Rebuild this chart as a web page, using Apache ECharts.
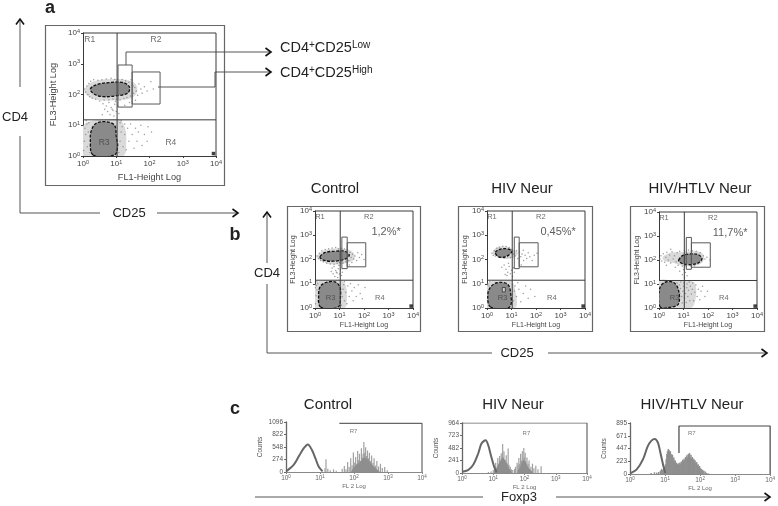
<!DOCTYPE html>
<html><head><meta charset="utf-8">
<style>html,body{margin:0;padding:0;background:#fff}#c{width:778px;height:506px}</style>
<script src="https://cdn.jsdelivr.net/npm/echarts@6/dist/echarts.min.js"></script></head>
<body><div id="c"></div>
<script>
const dotTitles=["Control","HIV Neur","HIV/HTLV Neur"];
const pct=["1,2%*","0,45%*","11,7%*"];
const regionNames=["R1","R2","R3","R4"];

// gates: [xDiv, yDiv]
const gateA=[10.6,15], gateB1=[10.7,14], gateB2=[10.7,14], gateB3=[10.8,14];
// rectangles [x0,x1,y0,y1]
const lowA=[11.3,30,39,910], highA=[30,208,49,540];
const lowB1=[12.5,20.6,42,840], highB1=[20.6,118,50,490];
const lowB2=[13,20.6,42,840], highB2=[20.6,122,50,490];
const lowB3=[13,21,41,870], highB3=[21,124,50,520];

// contour blobs
const upA=[[1.66,149],[2.5,207],[6.3,245],[16,245],[25,174],[22,110],[10,91],[4,85],[2.2,102]];
const loA=[[2,1.08],[1.66,3.3],[1.8,7],[2.5,11.6],[5,13],[8.9,10],[10,4.3],[11,2],[8.9,1.08]];
const upB1=[[1.6,129],[2.6,195],[7.6,220],[16.6,220],[25,151],[16.6,103],[5.6,85],[2.2,94]];
const loB1=[[1.7,1.1],[1.4,3.3],[1.6,7.4],[2.6,11],[6.5,12],[10.4,7.4],[11,3.3],[8.9,1.1]];
const upB2=[[2.2,195],[3.5,268],[7.6,268],[10.4,208],[5.6,129],[3,129]];
const loB2=[[1.4,1.1],[1.07,3.3],[1.4,7.4],[2.6,11],[6.5,10],[8.9,5.4],[8.4,1.1]];
const holeB2=[[4.2,4.6],[4.2,7],[5.6,7],[5.6,4.6]];
const upB3=[[6.3,98],[10,158],[35,175],[57,115],[35,71],[12,65],[7.4,79]];
const loB3=[[1.13,1.1],[1.06,6.4],[1.8,12],[4,11.5],[6.3,5.5],[6.3,1.5],[3.4,1.1]];
const coreB3=[[2,3.4],[2,7],[3,9],[4.4,7.5],[4.6,4],[3.2,2.8]];
// dense speckle halos round the contours
const haloUpA=[[1.1,130],[1.5,220],[3,290],[8,320],[20,300],[38,220],[42,120],[28,75],[10,65],[3,65],[1.5,85]];
const haloLoA=[[1,1],[1,9],[1.5,13],[4,15],[12,15],[18,9],[20,3],[16,1]];
const haloUpB1=[[1.2,120],[1.7,200],[4,270],[10,280],[22,260],[40,170],[38,95],[20,72],[8,62],[3,70]];
const haloLoB1=[[1,1],[1,8],[1.5,13],[5,14],[12,14],[18,8],[20,2.5],[16,1]];
const haloUpB2=[[1.7,180],[2.2,290],[5,340],[10,280],[18,190],[14,130],[7,105],[3,125]];
const haloLoB2=[[1,1],[1,8],[1.6,13],[5,13],[10,13],[14,6],[14,1]];
const haloUpB3=[[1.4,130],[3,200],[8,210],[20,230],[50,210],[70,130],[50,70],[12,55],[4,75],[1.7,90]];
const haloLoB3=[[1,1],[1,13],[4,14],[12,14],[28,11],[32,3],[20,1]];

// speckle dots
const dotsA=[[1.1,150],[1.2,120],[1.3,190],[1.4,100],[1.5,230],[1.6,85],[1.7,270],[1.9,75],[2.1,300],[2.4,70],[2.8,290],[3.2,62],[3.7,300],[4.3,66],[5,320],[6,68],[7,340],[8,72],[9,310],[10,70],[11,300],[13,66],[15,310],[17,74],[19,280],[21,80],[24,250],[27,90],[30,210],[33,110],[36,170],[40,130],[44,95],[48,220],[55,150],[60,110],[70,180],[85,130],[110,260],[130,150],[28,300],[32,190],[38,65],[25,55],[18,45],
[4,50],[5,42],[6,55],[7,38],[8,30],[9,48],[5.5,28],[6.5,22],[7.5,33],[8.5,20],[10,28],[11,42],[12,24],[4.5,33],[9.5,60],[3.8,22],
[1.05,1.5],[1.1,3],[1.2,5],[1.15,8],[1.3,11],[1.35,2],[1.45,6],[1.5,12],[1.25,14],[1.6,1.3],
[12,1.3],[13,3],[14,6],[15,9],[13,12],[16,2],[18,5],[20,1.6],[22,8],[24,3],[27,11],[30,5],[34,1.8],[38,8],[42,3],[46,6],[55,10],[60,2.2],[70,5],[85,3],[90,9],[115,6],[14,14],[18,11]];
const dotsB1=[[1.2,140],[1.4,110],[1.5,180],[1.7,90],[1.9,230],[2.2,80],[2.6,260],[3,70],[3.6,280],[4.2,66],[5,300],[6,64],[7,310],[8,70],[9,280],[10,75],[12,290],[14,72],[16,270],[18,80],[21,240],[24,92],[27,200],[30,120],[34,165],[38,105],[43,140],[50,90],[56,190],[65,120],[80,160],[100,100],[25,60],[32,75],
[5,45],[6,52],[7,35],[8,28],[9,42],[5.5,26],[6.5,20],[7.5,30],[8.5,18],[10,25],[11,38],[12,22],[4.6,32],[9.5,56],[13,30],
[1.05,1.5],[1.1,3.2],[1.2,5.5],[1.15,8.5],[1.3,10],[1.3,2],[1.05,6.8],[1.2,12],[12,1.3],[13,3],[14,6],[15,9],[16,2],[18,4.5],[20,1.5],[22,8],[25,3],[28,10],[32,5],[36,2],[40,7],[48,3],[58,9],[70,4],[85,2.4],[110,7],[16,12]];
const dotsB2=[[1.6,180],[1.8,150],[2,230],[2.2,140],[2.5,290],[2.8,130],[3.2,330],[3.8,120],[4.4,350],[5,115],[6,340],[7,130],[8,310],[9,120],[10,250],[12,170],[14,140],[16,230],[18,110],[21,200],[24,130],[27,170],[31,90],[36,150],[42,110],[48,190],[56,130],[70,90],[85,150],[110,180],[30,240],[25,60],
[4,48],[5,60],[6,40],[7,30],[8,52],[6.5,22],[9,26],[10,36],[11,20],[5.5,24],[12,46],[7.5,70],[13,30],
[1.05,2],[1.1,5],[1.2,8],[1.3,12],[1.1,10],[12,2],[13,5],[14,8],[16,3],[18,11],[20,6],[24,1.8],[30,4],[38,8],[48,2.5],[60,6],[90,3]];
const dotsB3=[[1.1,110],[1.2,150],[1.3,90],[1.5,180],[1.7,80],[1.9,130],[2.1,210],[2.4,100],[2.7,160],[3,75],[3.4,220],[3.8,110],[4.3,150],[5,85],[5.5,200],[6,60],[7,230],[8,130],[9,55],[11,240],[13,52],[16,260],[19,58],[23,240],[28,58],[33,230],[40,70],[48,200],[55,90],[65,150],[75,110],[90,130],[120,100],[2,60],[3,280],[4.6,50],
[10,40],[12,30],[9,24],[14,22],[11,18],[7,34],
[1.2,1.4],[1.4,2.2],[1.3,3.6],[1.5,5],[1.6,1.3],[1.8,2.4],[2,1.6],[2.3,3],[2.6,1.3],[3,1.8],[3.6,1.4],[4.2,2.6],[5,1.3],[5.5,3],[6.5,2],[7,4],[7.5,6.5],[6.8,9],[5.5,11],[7.8,12],[8.5,3],[9,1.6],[9.5,5],[10,8],[10.5,11],[11,2.6],[12,4],[13,1.7],[13.5,7],[14,10],[15,3],[16,5.5],[17,12],[18,2],[19,8],[21,3.8],[23,6],[24,11],[26,2],[29,4.5],[32,9],[36,3],[40,6],[46,2.2],[52,5],[60,8],[75,3],[95,5]];

// histograms
const yMaxH=[1096,964,896];
const yStepH=[274,241,224];
const yLabelsH=[["0","274","548","822","1096"],["0","241","482","723","964"],["0","223","447","671","895"]];
const curveH1=[[1,20],[1.07,29],[1.68,158],[2.36,338],[3.3,518],[4.4,605],[5.8,482],[7.3,302],[9.1,122],[11.9,14]];
const curveH2=[[1,25],[1.56,57],[2.26,153],[3.3,376],[4.2,568],[5.7,632],[6.9,536],[8.4,344],[10.7,121],[12.8,13]];
const curveH3=[[1,12],[1.07,18],[1.53,76],[2.33,252],[3.2,486],[4.1,586],[5.1,615],[6.3,545],[7.4,369],[8.8,164],[10.2,18]];
const spikesH1=[[14,80],[15,280],[17,70],[20,40],[25,60],[30,30],[45,70],[52,130],[58,60],[65,220],[72,110],[80,300],[88,150],[96,430],[105,210],[112,330],[120,180],[128,460],[136,260],[145,400],[155,240],[165,520],[175,320],[185,400],[195,660],[205,420],[220,540],[235,350],[250,470],[265,300],[285,420],[305,240],[330,360],[360,200],[390,300],[430,140],[470,240],[530,120],[600,180],[680,90],[800,110],[950,40]];
const spikesH2=[[7,20],[8.5,30],[10,60],[11,120],[12,200],[13,90],[14,290],[15,170],[16,330],[17,210],[18,380],[19,240],[20,560],[21,300],[22,420],[24,250],[26,340],[28,190],[30,470],[32,160],[35,120],[38,70],[42,60],[48,80],[52,120],[58,200],[62,150],[66,290],[70,180],[75,370],[80,240],[85,420],[90,280],[95,480],[100,300],[105,390],[110,230],[120,300],[130,180],[140,240],[160,120],[180,180],[200,90],[230,140],[270,70],[340,130]];
const spikesH3=[[4,18],[5,30],[5.8,25],[6.6,35],[7.4,60],[8,90],[8.6,70],[9.2,110],[9.8,130],[10.3,170],[10.8,260],[11.3,350],[11.8,400],[12.4,440],[13,420],[13.6,390],[14.2,400],[14.9,350],[15.6,330],[16.3,340],[17,280],[17.8,290],[18.6,230],[19.5,240],[20.4,190],[21.3,200],[22.3,170],[23.3,165],[24.4,190],[25.5,160],[26.7,200],[28,170],[29.3,220],[30.7,190],[32,250],[33.6,220],[35,270],[36.8,240],[38.5,300],[40.3,260],[42,330],[44,290],[46,350],[48,300],[50,370],[52.5,290],[55,340],[57.5,270],[60,300],[63,240],[66,270],[69,220],[72,240],[76,190],[80,210],[84,160],[88,170],[92,130],[97,140],[102,100],[110,90],[118,70],[128,55],[140,45],[155,20],[176,10]];
const coreH1=[[85,0],[100,100],[130,180],[160,240],[195,310],[250,280],[320,180],[420,90],[560,0]];
const coreH2=[[11,0],[13,110],[16,210],[20,300],[25,220],[32,90],[38,0]];
const coreH2b=[[60,0],[75,130],[90,240],[105,220],[130,110],[180,0]];
const gateH1=[[37,1067],[10000,1067],[10000,0]];
const gateH2=[[1,964],[10000,964],[10000,0]];
const gateH3=[[25,370],[25,843],[10000,843],[10000,0]];
const labelH=[[97,0.82],[115,0.8],[58,0.8]];

const DK='#3a3a3a', MID='#5a5a5a';
const series=[], grid=[], xAxis=[], yAxis=[];

function sup(v){const e=Math.round(Math.log10(v));return '{b|10}{s|'+e+'}';}
const rich={b:{fontSize:8,color:'#444',fontFamily:'Liberation Sans',lineHeight:10},
            s:{fontSize:5.5,color:'#444',fontFamily:'Liberation Sans',verticalAlign:'top',lineHeight:10}};
const richS={b:{fontSize:6.5,color:'#666',fontFamily:'Liberation Sans',lineHeight:8},
             s:{fontSize:4.5,color:'#666',fontFamily:'Liberation Sans',verticalAlign:'top',lineHeight:8}};

function poly(g,pts,style,z,kind){
  // kind: 'blob' smooth closed and kept inside the plot, 'rect' sharp closed, 'line' sharp open
  series.push({type:'custom',xAxisIndex:g,yAxisIndex:g,coordinateSystem:'cartesian2d',silent:true,z:z||3,clip:kind==='blob',
    data:pts,encode:{x:0,y:1},
    renderItem(params,api){
      if(params.dataIndex!==0) return null;
      const points=pts.map(p=>api.coord(p));
      return {type:kind==='line'?'polyline':'polygon',shape:{points,smooth:kind==='blob'?0.35:0},style:Object.assign({},style)};
    }});
}
function rectPts(r){return [[r[0],r[2]],[r[0],r[3]],[r[1],r[3]],[r[1],r[2]]];}

function dotPanel(box,gate,low,high,up,lo,haloUp,haloLo,dots,big,name,extra){
  const g=grid.length;
  grid.push({left:box[0],top:box[1],width:box[2],height:box[3],containLabel:false});
  const al={show:true,formatter:sup,rich,margin:3};
  const nameStyle={fontSize:big?9.2:7,color:'#444',fontFamily:'Liberation Sans'};
  xAxis.push({gridIndex:g,type:'log',logBase:10,min:1,max:10000,
    axisLine:{show:true,onZero:false,lineStyle:{color:DK,width:1}},axisTick:{show:true,length:2,lineStyle:{color:DK}},splitLine:{show:false},minorTick:{show:false},
    axisLabel:al,name:'FL1-Height Log',nameLocation:'middle',nameGap:big?17:14,nameTextStyle:nameStyle});
  yAxis.push({gridIndex:g,type:'log',logBase:10,min:1,max:10000,
    axisLine:{show:true,onZero:false,lineStyle:{color:DK,width:1}},axisTick:{show:true,length:2,lineStyle:{color:DK}},splitLine:{show:false},minorTick:{show:false},
    axisLabel:al,name:'FL3-Height Log',nameLocation:'middle',nameGap:big?25:18,nameRotate:90,nameTextStyle:nameStyle});
  const halo={fill:'#dadada',stroke:'none'};
  poly(g,haloUp,halo,1,'blob'); poly(g,haloLo,halo,1,'blob');
  series.push({type:'scatter',xAxisIndex:g,yAxisIndex:g,data:dots,symbolSize:1.5,itemStyle:{color:'#858585'},silent:true,z:2});
  const frame={fill:'none',stroke:DK,lineWidth:1};
  poly(g,[[1,gate[1]],[10000,gate[1]]],frame,4,'line');
  poly(g,[[gate[0],1],[gate[0],10000]],frame,4,'line');
  poly(g,[[1,10000],[10000,10000],[10000,1]],frame,4,'line');
  const gs={fill:'none',stroke:MID,lineWidth:1};
  poly(g,rectPts(low),gs,4,'rect'); poly(g,rectPts(high),gs,4,'rect');
  const blob={fill:'#8a8a8a',stroke:'#111',lineWidth:1.3,lineDash:[3,1.5]};
  poly(g,up,blob,3,'blob'); poly(g,lo,blob,3,'blob');
  if(extra&&extra.core) poly(g,extra.core,{fill:'#8a8a8a',stroke:'none'},3,'blob');
  if(extra&&extra.hole) poly(g,extra.hole,{fill:'#cfcfcf',stroke:'#333',lineWidth:.8},3,'rect');
  const labelPts=[[1.6,5900,regionNames[0]],[157,5900,regionNames[1]],[4.3,2.7,regionNames[2]],[440,2.7,regionNames[3]]];
  series.push({type:'scatter',xAxisIndex:g,yAxisIndex:g,data:labelPts,symbolSize:0,silent:true,z:6,
    label:{show:true,position:'inside',formatter:p=>p.data[2],fontSize:big?8.5:7.5,color:'#444',fontFamily:'Liberation Sans'}});
  series.push({type:'scatter',xAxisIndex:g,yAxisIndex:g,data:[[8400,1.2]],symbol:'rect',symbolSize:3.5,itemStyle:{color:'#111'},silent:true,z:6});
  if(name) series.push({type:'scatter',xAxisIndex:g,yAxisIndex:g,data:[[800,1350]],symbolSize:0,silent:true,z:6,
    label:{show:true,position:'inside',formatter:name,fontSize:11,color:'#333',fontFamily:'Liberation Sans'}});
}

function histPanel(box,i,curve,spikes,cores,gate){
  const g=grid.length;
  grid.push({left:box[0],top:box[1],width:box[2],height:box[3]});
  const axisCol='#666';
  xAxis.push({gridIndex:g,type:'log',logBase:10,min:1,max:10000,
    axisLine:{show:true,onZero:false,lineStyle:{color:'#888',width:1}},axisTick:{show:true,length:2,lineStyle:{color:'#888'}},splitLine:{show:false},minorTick:{show:false},
    axisLabel:{formatter:sup,rich:richS,margin:2},name:'FL 2 Log',nameLocation:'middle',nameGap:11,nameTextStyle:{fontSize:6,color:'#666',fontFamily:'Liberation Sans'}});
  yAxis.push({gridIndex:g,type:'value',min:0,max:yMaxH[i],interval:yStepH[i],
    axisLine:{show:true,onZero:false,lineStyle:{color:axisCol,width:1.3}},axisTick:{show:true,length:2,lineStyle:{color:axisCol}},splitLine:{show:false},
    axisLabel:{formatter:v=>yLabelsH[i][Math.round(v/yStepH[i])],fontSize:6.5,color:'#555',margin:3,fontFamily:'Liberation Sans'},
    name:'Counts',nameLocation:'middle',nameGap:22,nameRotate:90,nameTextStyle:{fontSize:6.5,color:'#555',fontFamily:'Liberation Sans'}});
  series.push({type:'custom',xAxisIndex:g,yAxisIndex:g,coordinateSystem:'cartesian2d',silent:true,z:2,data:spikes,encode:{x:0,y:1},
    renderItem(p,api){const a=api.coord([api.value(0),0]),b=api.coord([api.value(0),api.value(1)]);
      return {type:'line',shape:{x1:a[0],y1:a[1],x2:b[0],y2:b[1]},style:{stroke:i===2?'#8f8f8f':'#a0a0a0',lineWidth:i===2?1.5:1.2}};}});
  cores.forEach(c=>poly(g,c,{fill:'#8e8e8e',stroke:'none'},3,'blob'));
  series.push({type:'line',xAxisIndex:g,yAxisIndex:g,data:curve,smooth:0.3,symbol:'none',lineStyle:{color:'#666',width:2},silent:true,z:4});
  series.push({type:'line',xAxisIndex:g,yAxisIndex:g,data:gate,symbol:'none',lineStyle:{color:i===2?'#444':'#666',width:1.2},silent:true,z:4});
  series.push({type:'scatter',xAxisIndex:g,yAxisIndex:g,data:[[labelH[i][0],yMaxH[i]*labelH[i][1]]],symbolSize:0,silent:true,z:6,
    label:{show:true,position:'inside',formatter:'R7',fontSize:6,color:'#555',fontFamily:'Liberation Sans'}});
}

dotPanel([83,33,133,123],gateA,lowA,highA,upA,loA,haloUpA,haloLoA,dotsA,true,null);
dotPanel([315,211,98,97],gateB1,lowB1,highB1,upB1,loB1,haloUpB1,haloLoB1,dotsB1,false,pct[0]);
dotPanel([487,211,98,97],gateB2,lowB2,highB2,upB2,loB2,haloUpB2,haloLoB2,dotsB2,false,pct[1],{hole:holeB2});
dotPanel([659,212,98,96],gateB3,lowB3,highB3,upB3,loB3,haloUpB3,haloLoB3,dotsB3,false,pct[2],{core:coreB3});
histPanel([286,422,136,50],0,curveH1,spikesH1,[coreH1],gateH1);
histPanel([462,423,125,50],1,curveH2,spikesH2,[coreH2,coreH2b],gateH2);
histPanel([630,423,145,51],2,curveH3,spikesH3,[],gateH3);

// graphic overlay
const gr=[];
const lineC='#555';
function pl(points,c,w){gr.push({type:'polyline',shape:{points},style:{fill:'none',stroke:c||lineC,lineWidth:w||1},silent:true});}
function head(x,y,dir){const a=5.5,b=4;
  const p=dir==='r'?[[x-a,y-b],[x,y],[x-a,y+b]]:[[x-b,y+a],[x,y],[x+b,y+a]];
  pl(p,'#111',1.6);}
function tx(t,x,y,size,o){gr.push({type:'text',x,y,silent:true,style:Object.assign({text:t,fontSize:size,fill:'#222',fontFamily:'Liberation Sans',textAlign:'center',textVerticalAlign:'middle'},o||{})});}
function frame(x,y,w,h){gr.push({type:'rect',shape:{x:x+.5,y:y+.5,width:w,height:h},z:-1,silent:true,style:{fill:'none',stroke:'#666',lineWidth:1.2}});}
frame(45,25,179,160);frame(287,206,133,125);frame(458,206,134,125);frame(630,206,134,125);
pl([[20,87],[20,20]]);head(20,19,'u');pl([[20,136],[20,213],[100,213]]);pl([[157,213],[237,213]]);head(238,213,'r');
tx('CD4',15,117,13);tx('CD25',129,213,13);
pl([[267,263],[267,213]]);head(267,212,'u');pl([[267,284],[267,353],[492,353]]);pl([[548,353],[766,353]]);head(767,353,'r');
tx('CD4',267,273,13);tx('CD25',517,353,13);
pl([[126,65],[126,52],[270,52]]);head(271,52,'r');
pl([[158,87],[215,87],[215,72],[270,72]]);head(271,72,'r');
const rs={r:{fontSize:14.5,fontFamily:'Liberation Sans',fill:'#222'},s:{fontSize:10,fontFamily:'Liberation Sans',fill:'#222',verticalAlign:'top'}};
function lab(parts,x,y){gr.push({type:'text',x,y,silent:true,style:{text:parts,rich:rs,textAlign:'left',textVerticalAlign:'middle'}});}
lab('{r|CD4}{s|+}{r|CD25}{s|Low}',280,48);
lab('{r|CD4}{s|+}{r|CD25}{s|High}',280,73);
const bold={fontWeight:'bold'};
tx('a',50,8,18,bold);tx('b',235,235,18,bold);tx('c',235,409,18,bold);
[335,522,700].forEach((x,i)=>tx(dotTitles[i],x,189,15));
[328,513,692].forEach((x,i)=>tx(dotTitles[i],x,405,15));
pl([[255,497],[483,497]]);tx('Foxp3',519,497,13);pl([[556,497],[769,497]]);head(770,497,'r');

const chart=echarts.init(document.getElementById('c'),null,{renderer:'canvas'});
chart.setOption({animation:false,backgroundColor:'#fff',tooltip:{show:false},legend:{show:false},grid,xAxis,yAxis,series,graphic:{elements:gr}});
</script></body></html>
